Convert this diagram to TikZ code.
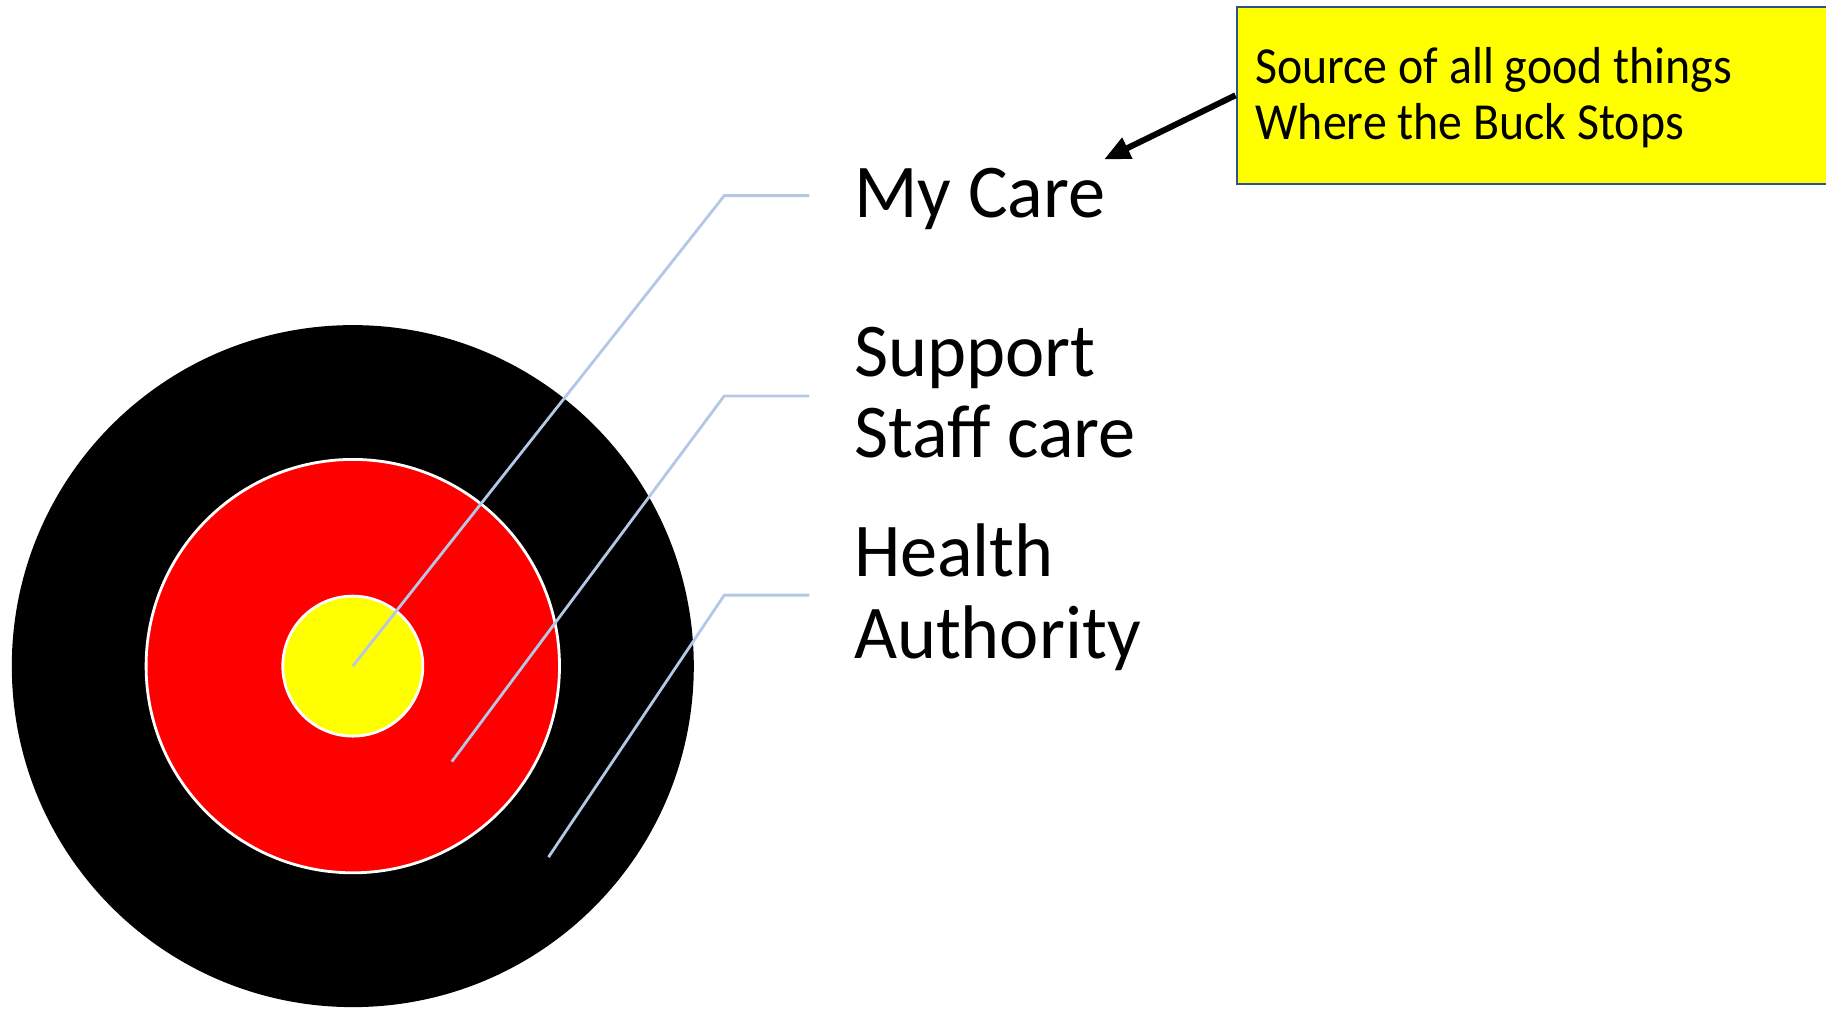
\documentclass[tikz,border=0pt]{standalone}
\usepackage{fontspec}
\setmainfont{Carlito}
\newfontfamily\labelfont[FakeStretch=0.978]{Carlito}
\newfontfamily\boxfont[FakeStretch=0.92]{Carlito}
\usetikzlibrary{arrows.meta}
\definecolor{leader}{RGB}{180,199,231}
\definecolor{boxline}{RGB}{47,82,143}
\definecolor{targetyellow}{RGB}{255,255,0}
\definecolor{targetred}{RGB}{255,0,0}
\begin{document}
\begin{tikzpicture}[x=0.5pt,y=-0.5pt,
  ring/.style={circle,inner sep=0pt,outer sep=0pt},
  leaderline/.style={draw=leader,line width=1.4pt},
  biglabel/.style={anchor=base west,inner sep=0pt,align=left,font=\labelfont\fontsize{38}{40.75}\selectfont},
  boxtext/.style={anchor=base west,inner sep=0pt,align=left,font=\boxfont\fontsize{26}{28}\selectfont}]
\useasboundingbox (0,0) rectangle (1826,1009);
% target
\node[ring,fill=black,minimum size=341pt] (outer) at (352.8,666.1) {};
\node[ring,fill=targetred,draw=white,line width=1.4pt,minimum size=206.7pt] (mid) at (352.8,666.1) {};
\node[ring,fill=targetyellow,draw=white,line width=1.4pt,minimum size=70pt] (inner) at (352.8,666.1) {};
% labels (anchored at the baseline of their last line)
\node[biglabel] (care) at (853.6,217.8) {My Care};
\node[biglabel] (staff) at (853.6,457.6) {Support\\Staff care};
\node[biglabel] (health) at (853.6,658) {Health\\Authority};
% leader lines
\coordinate (p1) at (352.8,666.1);
\coordinate (b1) at (724.3,195.6);
\coordinate (e1) at (809.3,195.6);
\coordinate (p2) at (451.8,761.6);
\coordinate (b2) at (724.3,395.9);
\coordinate (e2) at (809.3,395.9);
\coordinate (p3) at (548.5,857.1);
\coordinate (b3) at (724.3,595.1);
\coordinate (e3) at (809.3,595.1);
\draw[leaderline] (p1) -- (b1) -- (e1);
\draw[leaderline] (p2) -- (b2) -- (e2);
\draw[leaderline] (p3) -- (b3) -- (e3);
% callout box
\node[draw=boxline,fill=targetyellow,line width=1pt,minimum width=297.25pt,minimum height=88.5pt,inner sep=0pt,anchor=north west] (box) at (1235.5,5.8) {};
\node[boxtext] (boxtxt) at (1255,139.7) {Source of all good things\\Where the Buck Stops};
\coordinate (tip) at (1104,159.5);
\draw[line width=3pt,-{Triangle[length=13pt,width=11pt]}] (box.west) -- (tip);
\end{tikzpicture}
\end{document}
